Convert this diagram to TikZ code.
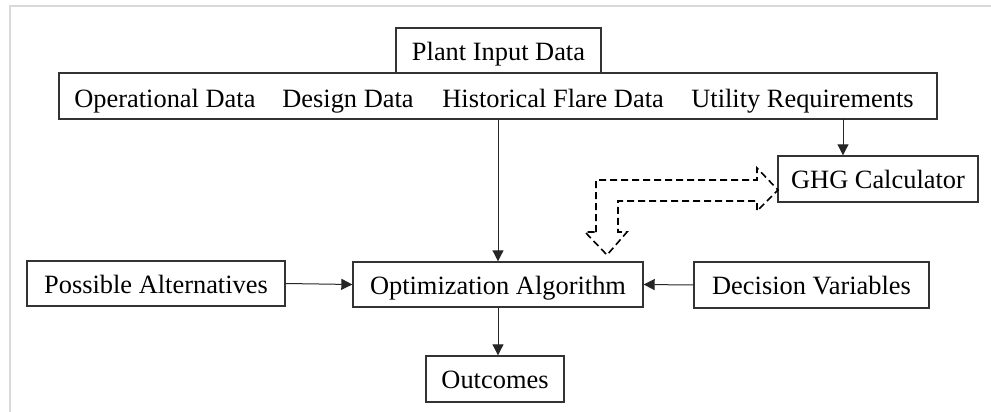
\documentclass[tikz,border=0pt]{standalone}
\usepackage{fontspec}
\setmainfont{Liberation Serif}
\usetikzlibrary{arrows.meta,positioning}
\definecolor{framec}{HTML}{D9D9D9}
\definecolor{edgec}{HTML}{333333}
\newcommand{\diagfont}{\fontsize{13.2}{15}\selectfont}
\tikzset{
  box/.style={draw=edgec,line width=0.7pt,inner sep=0pt,minimum height=22.5pt,
    text height=12pt,text depth=2.5pt,font=\diagfont,align=center},
  lbl/.style={inner sep=0pt,font=\diagfont,anchor=base west},
  flow/.style={-{Triangle[length=5.5pt,width=5.5pt]},line width=0.5pt,draw=black!85},
  hollow/.style={draw=black,line width=0.8pt,dash pattern=on 3.5pt off 2pt,line join=miter},
}
\begin{document}
\begin{tikzpicture}[x=0.5pt,y=-0.5pt]
  \useasboundingbox (0,0) rectangle (991,412);
  \draw[framec,line width=1pt] (10,412) -- (10,6) -- (991,6);
  % input data
  \node[box,minimum width=102.5pt] (plant) at (498.5,50.5){Plant Input Data};
  \node[box,minimum width=439pt,minimum height=23pt] (inp) at (498,96){};
  \node[lbl] (opd) at (74,107){Operational Data};
  \node[lbl] (dsd) at (282,107){Design Data};
  \node[lbl] (hfd) at (442,107){Historical Flare Data};
  \node[lbl] (utr) at (691,107){Utility Requirements};
  \coordinate (utl) at (843,119);
  % calculator and optimisation
  \node[box,minimum width=100pt,minimum height=23pt] (ghg) at (878,179){GHG Calculator};
  \node[box,minimum width=129pt] (pa) at (156,283.5){Possible Alternatives};
  \node[box,minimum width=145pt] (opt) at (498,284.5){Optimization Algorithm};
  \node[box,minimum width=117.5pt,minimum height=23pt] (dv) at (811.5,285){Decision Variables};
  \node[box,minimum width=69pt,minimum height=23pt] (out) at (495,379){Outcomes};
  \draw[flow] (inp.south) -- (opt.north);
  \draw[flow] (utl) -- (utl |- ghg.north);
  \draw[flow] (pa.east) -- (opt.west);
  \draw[flow] (dv.west) -- (opt.east);
  \draw[flow] (opt.south) -- (opt.south |- out.north);
  % two-headed hollow arrow
  \draw[hollow] (596,232) -- (596,180) -- (757,180) -- (757,168) -- (778,190)
    -- (757,211) -- (757,201) -- (618,201) -- (618,232) -- (627,232)
    -- (607,255) -- (585,232) -- cycle;
\end{tikzpicture}
\end{document}
